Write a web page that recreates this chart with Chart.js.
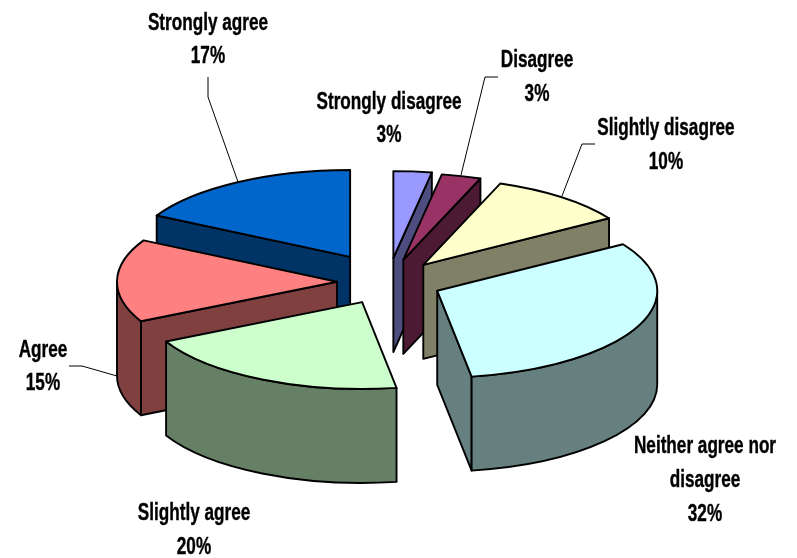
<!DOCTYPE html>
<html lang="en">
<head>
    <meta charset="UTF-8">
    <title>Agreement pie</title>
    <script src="https://cdn.jsdelivr.net/npm/chart.js"></script>
    <style>
        html, body { margin: 0; padding: 0; background: #fff; }
        .chart-container { width: 797px; height: 558px; }
    </style>
</head>
<body>
    <div class="chart-container">
        <canvas id="pieChart" width="797" height="558"></canvas>
    </div>
    <script>
        const categories = ['Strongly disagree', 'Disagree', 'Slightly disagree', 'Neither agree nor disagree', 'Slightly agree', 'Agree', 'Strongly agree'];
        // the labels show them rounded
        const percentages = [2.8, 2.9, 10.3, 31.5, 20, 15.4, 17.1];
        const topColors = ['#9999FF', '#993366', '#FFFFCC', '#CCFFFF', '#CCFFCC', '#FF8080', '#0066CC'];
        const wallColors = ['#4D4D80', '#4D1A33', '#808066', '#668080', '#668066', '#804040', '#003366'];

        // fake 3D: the library lays out the arcs, this plugin paints them tilted and extruded
        const tiltedPie = {
            id: 'tiltedPie',
            beforeDatasetsDraw(chart, args, opts) {
                const ctx = chart.ctx;
                const arcs = chart.getDatasetMeta(0).data;
                const order = arcs.map((a, i) => i).sort((p, q) =>
                    Math.sin((arcs[p].startAngle + arcs[p].endAngle) / 2) - Math.sin((arcs[q].startAngle + arcs[q].endAngle) / 2));

                ctx.save();
                ctx.strokeStyle = '#000';
                ctx.lineWidth = opts.lineWidth;
                ctx.lineJoin = 'round';
                order.forEach(i => {
                    const arc = arcs[i];
                    const start = arc.startAngle, end = arc.endAngle, mid = (start + end) / 2;
                    const rx = arc.outerRadius, ry = rx * opts.squash, d = opts.depth;
                    const ax = arc.x + opts.explode[i] * Math.cos(mid);
                    const ay = arc.y + opts.explode[i] * opts.squash * Math.sin(mid);
                    const px = t => ax + rx * Math.cos(t);
                    const py = t => ay + ry * Math.sin(t);

                    const face = t => {
                        ctx.beginPath();
                        ctx.moveTo(ax, ay);
                        ctx.lineTo(px(t), py(t));
                        ctx.lineTo(px(t), py(t) + d);
                        ctx.lineTo(ax, ay + d);
                        ctx.closePath();
                        ctx.fillStyle = wallColors[i];
                        ctx.fill();
                        ctx.stroke();
                    };
                    if (Math.cos(start) < 0) face(start);
                    if (Math.cos(end) > 0) face(end);

                    const t0 = Math.max(start, 0), t1 = Math.min(end, Math.PI);
                    if (t1 > t0) {
                        ctx.beginPath();
                        ctx.ellipse(ax, ay, rx, ry, 0, t0, t1);
                        ctx.ellipse(ax, ay + d, rx, ry, 0, t1, t0, true);
                        ctx.closePath();
                        ctx.fillStyle = wallColors[i];
                        ctx.fill();
                        ctx.stroke();
                    }

                    ctx.beginPath();
                    ctx.moveTo(ax, ay);
                    ctx.ellipse(ax, ay, rx, ry, 0, start, end);
                    ctx.closePath();
                    ctx.fillStyle = topColors[i];
                    ctx.fill();
                    ctx.stroke();
                });
                ctx.restore();
                return false;
            },
            afterDraw(chart, args, opts) {
                const ctx = chart.ctx;
                ctx.save();
                ctx.strokeStyle = '#000';
                ctx.lineWidth = 1;
                opts.leaders.forEach(pts => {
                    ctx.beginPath();
                    pts.forEach((p, k) => k ? ctx.lineTo(p[0], p[1]) : ctx.moveTo(p[0], p[1]));
                    ctx.stroke();
                });
                ctx.fillStyle = '#000';
                ctx.font = opts.font;
                ctx.textAlign = 'center';
                ctx.textBaseline = 'alphabetic';
                ctx.lineWidth = 0.4;
                opts.labels.forEach(l => {
                    const lines = (l.lines || [categories[l.i]]).concat(Math.round(percentages[l.i]) + '%');
                    lines.forEach((t, k) => {
                        // the reference type is a condensed bold, no narrow face is installed
                        ctx.save();
                        ctx.translate(l.x, l.y + k * l.step);
                        ctx.scale(opts.textSqueeze, 1);
                        ctx.fillText(t, 0, 0);
                        ctx.strokeText(t, 0, 0);
                        ctx.restore();
                    });
                });
                ctx.restore();
            }
        };

        new Chart(document.getElementById('pieChart').getContext('2d'), {
            type: 'pie',
            data: {
                labels: categories,
                datasets: [{
                    data: percentages,
                    backgroundColor: topColors,
                    radius: 220
                }]
            },
            options: {
                responsive: false,
                animation: false,
                layout: { padding: { left: 0, right: 21, top: 6, bottom: 0 } },
                plugins: {
                    legend: { display: false },
                    tooltip: { enabled: false },
                    tiltedPie: {
                        squash: 0.395,
                        depth: 94,
                        lineWidth: 1.9,
                        explode: [61, 58, 56, 54, 57, 51, 74],
                        font: 'bold 24px "Liberation Sans", sans-serif',
                        textSqueeze: 0.715,
                        labels: [
                            { i: 0, x: 389, y: 109, step: 33 },
                            { i: 1, x: 537, y: 67, step: 34 },
                            { i: 2, x: 666, y: 135, step: 34 },
                            { i: 3, x: 705, y: 453, step: 34, lines: ['Neither agree nor', 'disagree'] },
                            { i: 4, x: 194, y: 520, step: 34 },
                            { i: 5, x: 43, y: 357, step: 33 },
                            { i: 6, x: 208, y: 30, step: 33 }
                        ],
                        leaders: [
                            [[208, 77], [208, 97], [238, 182]],
                            [[498, 77], [485, 77], [461, 175]],
                            [[595, 144], [582, 144], [562, 196]],
                            [[69, 366], [82, 366], [117, 376]]
                        ]
                    }
                }
            },
            plugins: [tiltedPie]
        });
    </script>
</body>
</html>
